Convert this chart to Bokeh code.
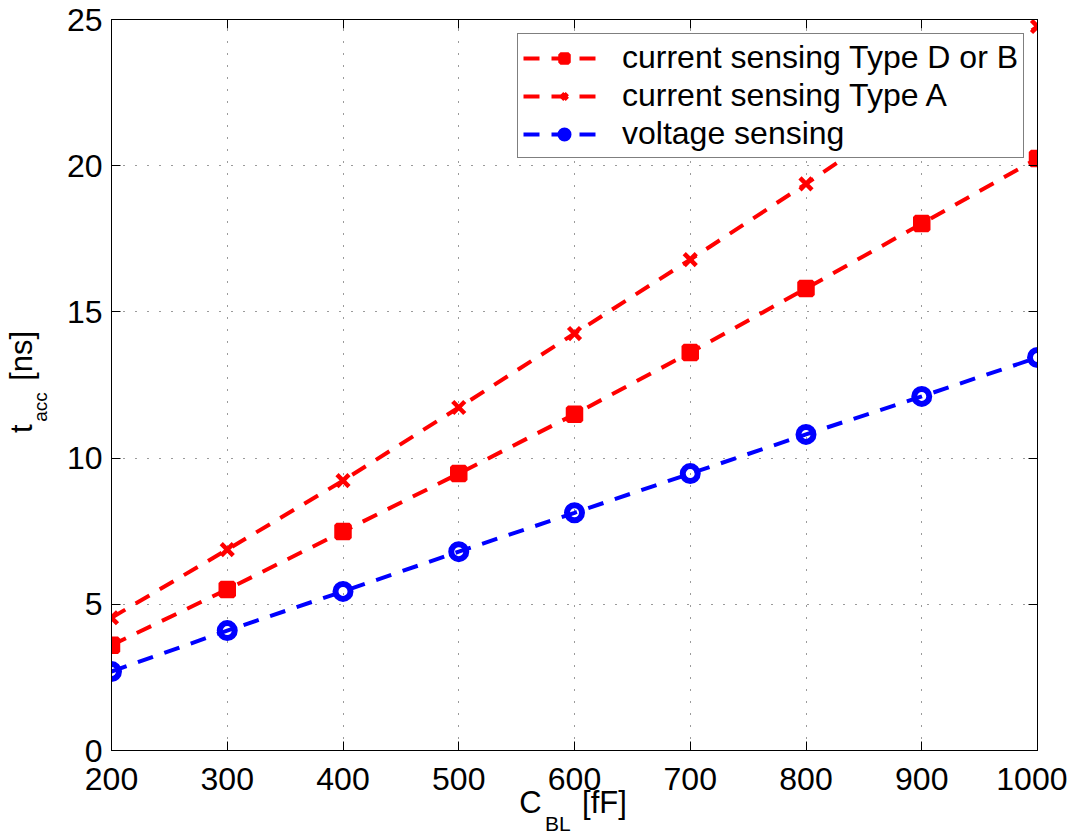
from bokeh.plotting import figure
from bokeh.models import FixedTicker, LinearAxis, Legend, LegendItem, Range1d
from bokeh.embed import file_html
from bokeh.resources import INLINE

# ---- data ----
cap_fF = [200, 300, 400, 500, 600, 700, 800, 900, 1000]
type_db = [3.60, 5.51, 7.49, 9.47, 11.50, 13.61, 15.80, 18.02, 20.25]
type_a = [4.54, 6.87, 9.23, 11.73, 14.26, 16.79, 19.38, 22.05, 24.76]
voltage = [2.70, 4.10, 5.44, 6.80, 8.13, 9.47, 10.81, 12.11, 13.44]
x_ticks = [200, 300, 400, 500, 600, 700, 800, 900, 1000]
y_ticks = [0, 5, 10, 15, 20, 25]
labels = ["current sensing Type D or B", "current sensing Type A", "voltage sensing"]

# axis titles (main text and subscript), placed along the axes
x_title_main = {562.0: "C", 625.9: "[fF]"}
x_title_sub = {585.6: "BL"}
y_title_main = {11.01: "t", 13.50: "[ns]"}
y_title_sub = {11.75: "acc"}

FONT = "Liberation Sans"
RED = "#FF0000"
BLUE = "#0000FF"

p = figure(frame_width=926, frame_height=731,
           x_range=Range1d(200, 1000), y_range=Range1d(0, 25),
           output_backend="svg", toolbar_location=None,
           min_border_left=111, min_border_right=30,
           min_border_top=19, min_border_bottom=60,
           background_fill_color="white", border_fill_color="white")

p.outline_line_color = "black"
p.outline_line_width = 1

# main axes
for ax, ticks in ((p.xaxis[0], x_ticks), (p.yaxis[0], y_ticks)):
    ax.ticker = FixedTicker(ticks=ticks)
    ax.major_tick_in = 9
    ax.major_tick_out = 0
    ax.minor_tick_line_color = None
    ax.axis_line_color = "black"
    ax.major_tick_line_color = "black"
    ax.major_label_text_font = FONT
    ax.major_label_text_font_size = "32px"
    ax.major_label_text_color = "black"
p.xaxis[0].major_label_standoff = 17
p.yaxis[0].major_label_standoff = 9


def title_axis(ticks_map, size, standoff, vertical=False):
    ax = LinearAxis(ticker=FixedTicker(ticks=list(ticks_map.keys())),
                    major_label_overrides=ticks_map,
                    major_tick_in=0, major_tick_out=0,
                    axis_line_color=None, major_tick_line_color=None,
                    minor_tick_line_color=None,
                    major_label_standoff=standoff,
                    major_label_text_font=FONT,
                    major_label_text_font_size=size,
                    major_label_text_color="black")
    if vertical:
        ax.major_label_orientation = "vertical"
    return ax


# x title: C_BL [fF]
p.add_layout(title_axis(x_title_main, "31px", -8), "below")
p.add_layout(title_axis(x_title_sub, "21px", -11), "below")
# y title: t_acc [ns]
p.add_layout(title_axis(y_title_sub, "19px", 12, vertical=True), "left")
p.add_layout(title_axis(y_title_main, "31px", -12, vertical=True), "left")

# mirrored axes (ticks only, labels not drawn)
top = LinearAxis(ticker=FixedTicker(ticks=x_ticks), major_tick_in=9, major_tick_out=0,
                 minor_tick_line_color=None, major_label_text_font_size="1px",
                 major_label_text_alpha=0, major_label_standoff=0, axis_line_color="black")
right = LinearAxis(ticker=FixedTicker(ticks=y_ticks), major_tick_in=9, major_tick_out=0,
                   minor_tick_line_color=None, major_label_text_font_size="1px",
                   major_label_text_alpha=0, major_label_standoff=0, axis_line_color="black")
p.add_layout(top, "above")
p.add_layout(right, "right")

# grid
for g, ticks in ((p.xgrid[0], x_ticks), (p.ygrid[0], y_ticks)):
    g.ticker = FixedTicker(ticks=ticks)
    g.grid_line_color = "#222222"
    g.grid_line_alpha = 0.9
    g.grid_line_width = 1
    g.grid_line_dash = "1 11"

# series
l1 = p.line(cap_fF, type_db, line_color=RED, line_width=4, line_dash="16 12")
m1 = p.scatter(cap_fF, type_db, marker="square", size=13, line_color=RED, line_width=4.5, fill_color=RED)
l2 = p.line(cap_fF, type_a, line_color=RED, line_width=4, line_dash="16 12")
m2 = p.scatter(cap_fF, type_a, marker="x", size=17, line_color=RED, line_width=4.5)
l3 = p.line(cap_fF, voltage, line_color=BLUE, line_width=4, line_dash="16 12")
m3 = p.scatter(cap_fF, voltage, marker="circle", size=15, line_color=BLUE, line_width=6, fill_color=None)

legend = Legend(items=[LegendItem(label=labels[0], renderers=[l1, m1]),
                       LegendItem(label=labels[1], renderers=[l2, m2]),
                       LegendItem(label=labels[2], renderers=[l3, m3])],
                location=(406, 592))
legend.label_text_font = FONT
legend.label_text_font_size = "32px"
legend.label_text_color = "black"
legend.glyph_width = 82
legend.glyph_height = 20
legend.label_standoff = 17
legend.padding = 5
legend.spacing = 1
legend.margin = 0
legend.border_line_color = "black"
legend.border_line_width = 1
legend.background_fill_color = "white"
legend.background_fill_alpha = 1
p.add_layout(legend, "center")

open("out.html", "w").write(file_html(p, INLINE))
